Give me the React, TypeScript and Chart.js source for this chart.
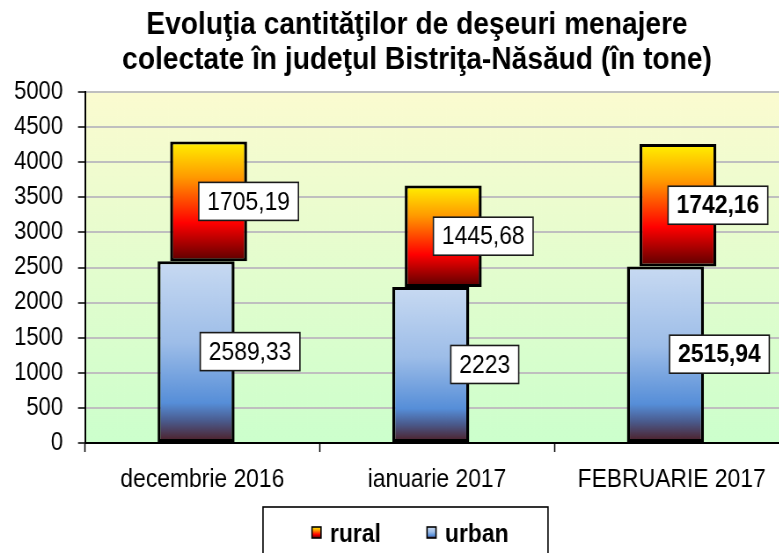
import React, { useEffect, useRef } from "react";
import { Chart, registerables } from "chart.js";

Chart.register(...registerables);

const categories = ["decembrie 2016", "ianuarie 2017", "FEBRUARIE 2017"];
const urbanValues = [2589.33, 2223, 2515.94];
const ruralValues = [1705.19, 1445.68, 1742.16];
const boldLabelPoints = [false, false, true];
const yTicks = [0, 500, 1000, 1500, 2000, 2500, 3000, 3500, 4000, 4500, 5000];
const titleLines = [
  "Evoluţia cantităţilor de deşeuri menajere",
  "colectate în judeţul Bistriţa-Năsăud (în tone)",
];
const seriesNames = ["urban", "rural"];

const FONT = "'Liberation Sans', Arial, sans-serif";

// display size and horizontal compression (text in the reference is condensed)
const DISPLAY_W = 834;
const DISPLAY_H = 553;
const INTERNAL_W = 948;
const SX = DISPLAY_W / INTERNAL_W;
const X = (d: number) => d / SX;

function ruralGrad(ctx: CanvasRenderingContext2D, top: number, bottom: number) {
  const g = ctx.createLinearGradient(0, top, 0, bottom);
  g.addColorStop(0, "#FFF200");
  g.addColorStop(0.3, "#FF9900");
  g.addColorStop(0.68, "#FF0000");
  g.addColorStop(1, "#5A0000");
  return g;
}
function urbanGrad(ctx: CanvasRenderingContext2D, top: number, bottom: number) {
  const g = ctx.createLinearGradient(0, top, 0, bottom);
  g.addColorStop(0, "#C8DAF2");
  g.addColorStop(0.45, "#9DBDE8");
  g.addColorStop(0.78, "#568ED8");
  g.addColorStop(0.88, "#4A5A8C");
  g.addColorStop(1, "#4E1A1E");
  return g;
}

const fmt = (v: number) => String(v).replace(".", ",");

const bgPlugin = {
  id: "plotBg",
  beforeDraw(chart: any) {
    const { ctx, chartArea } = chart;
    if (!chartArea) return;
    const g = ctx.createLinearGradient(0, chartArea.top, 0, chartArea.bottom);
    g.addColorStop(0, "#FBFBD0");
    g.addColorStop(1, "#CCFFCC");
    ctx.save();
    ctx.fillStyle = g;
    ctx.fillRect(chartArea.left, chartArea.top, chartArea.right - chartArea.left, chartArea.bottom - chartArea.top);
    ctx.restore();
  },
};

const labelPlugin = {
  id: "valueBoxes",
  afterDatasetsDraw(chart: any) {
    const ctx = chart.ctx;
    const offsets = [X(54), X(40)];
    const values = [urbanValues, ruralValues];
    chart.data.datasets.forEach((ds: any, di: number) => {
      const meta = chart.getDatasetMeta(di);
      meta.data.forEach((el: any, i: number) => {
        const text = fmt(values[di][i]);
        const bold = boldLabelPoints[i];
        ctx.save();
        ctx.font = `${bold ? "bold " : ""}26px ${FONT}`;
        const w = ctx.measureText(text).width;
        const bw = w + X(17);
        const bh = 38;
        const cx = el.x + offsets[di];
        const cy = (el.y + el.base) / 2;
        ctx.fillStyle = "#FFFFFF";
        ctx.fillRect(cx - bw / 2, cy - bh / 2, bw, bh);
        ctx.lineWidth = 1.6;
        ctx.strokeStyle = "#1a1a1a";
        ctx.strokeRect(cx - bw / 2, cy - bh / 2, bw, bh);
        ctx.fillStyle = "#000";
        ctx.textAlign = "center";
        ctx.textBaseline = "middle";
        ctx.fillText(text, cx, cy + 1);
        ctx.restore();
      });
    });
  },
};

const legendPlugin = {
  id: "boxLegend",
  afterDraw(chart: any) {
    const ctx = chart.ctx;
    ctx.save();
    ctx.lineWidth = 1.6;
    ctx.strokeStyle = "#000";
    ctx.strokeRect(X(263), 507, X(285), 60);
    const items = [
      { label: chart.data.datasets[1].label, x: X(312), grad: ruralGrad },
      { label: chart.data.datasets[0].label, x: X(427), grad: urbanGrad },
    ];
    ctx.font = `bold 26px ${FONT}`;
    ctx.textBaseline = "middle";
    ctx.textAlign = "left";
    items.forEach((it) => {
      ctx.fillStyle = it.grad(ctx, 527, 538);
      ctx.fillRect(it.x, 527, X(9), 11);
      ctx.lineWidth = 1.6;
      ctx.strokeStyle = "#000";
      ctx.strokeRect(it.x, 527, X(9), 11);
      ctx.fillStyle = "#000";
      ctx.fillText(it.label, it.x + X(18), 535);
    });
    ctx.restore();
  },
};

export default function App() {
  const ref = useRef<HTMLCanvasElement>(null);
  useEffect(() => {
    if (!ref.current) return;
    const barBg = (isRural: boolean) => (c: any) => {
      const chart = c.chart;
      const y = chart.scales?.y;
      if (!chart.chartArea || !y || c.dataIndex === undefined) return isRural ? "#FF6600" : "#8DB3E2";
      const i = c.dataIndex;
      const lo = isRural ? urbanValues[i] : 0;
      const hi = isRural ? urbanValues[i] + ruralValues[i] : urbanValues[i];
      const top = y.getPixelForValue(hi);
      const bottom = y.getPixelForValue(lo);
      return isRural ? ruralGrad(chart.ctx, top, bottom) : urbanGrad(chart.ctx, top, bottom);
    };
    const bw = { top: 3, bottom: 3, left: X(3), right: X(3) };
    const chart = new Chart(ref.current, {
      type: "bar",
      data: {
        labels: categories,
        datasets: [
          {
            label: seriesNames[0],
            data: urbanValues,
            backgroundColor: barBg(false),
            borderColor: "#000",
            borderWidth: bw,
            borderSkipped: false,
          },
          {
            label: seriesNames[1],
            data: urbanValues.map((u, i) => [u, u + ruralValues[i]]) as any,
            backgroundColor: barBg(true),
            borderColor: "#000",
            borderWidth: bw,
            borderSkipped: false,
          },
        ],
      },
      options: {
        responsive: false,
        devicePixelRatio: 1,
        animation: false,
        events: [],
        layout: { padding: 0 },
        datasets: { bar: { categoryPercentage: 0.1065, barPercentage: 6.16 } },
        plugins: {
          legend: { display: false },
          tooltip: { enabled: false },
          title: {
            display: true,
            text: titleLines,
            color: "#000",
            font: { family: FONT, size: 32, weight: "bold", lineHeight: 1.094 },
            padding: { top: 8, bottom: 14 },
          },
        },
        scales: {
          x: {
            grid: { display: true, drawOnChartArea: false, tickLength: 9, tickColor: "#000", tickWidth: 1.5, offset: true },
            border: { display: true, color: "#000", width: 2 },
            ticks: { color: "#000", font: { family: FONT, size: 26 }, padding: 12, maxRotation: 0, autoSkip: false },
            afterFit: (s: any) => { s.height = 110; },
          },
          y: {
            min: 0,
            max: 5000,
            afterBuildTicks: (s: any) => { s.ticks = yTicks.map((v) => ({ value: v })); },
            grid: { color: "#BFBFBF", lineWidth: 2, tickLength: X(7), tickColor: "#000", tickWidth: 1.5 },
            border: { display: true, color: "#000", width: 2 },
            ticks: { color: "#000", font: { family: FONT, size: 25 }, padding: X(15), callback: (v: any) => String(v) },
            afterFit: (s: any) => { s.width = X(85); },
          },
          yRight: {
            type: "linear",
            position: "right",
            display: true,
            grid: { display: false },
            border: { display: false },
            ticks: { display: false },
            afterFit: (s: any) => { s.width = X(45); },
          },
        },
      },
      plugins: [bgPlugin, labelPlugin, legendPlugin],
    });
    return () => chart.destroy();
  }, []);
  return (
    <div style={{ position: "fixed", left: 0, top: 0, width: DISPLAY_W, height: DISPLAY_H, background: "#fff", overflow: "hidden" }}>
      <canvas
        ref={ref}
        width={INTERNAL_W}
        height={DISPLAY_H}
        style={{ display: "block", width: DISPLAY_W, height: DISPLAY_H }}
      />
    </div>
  );
}
